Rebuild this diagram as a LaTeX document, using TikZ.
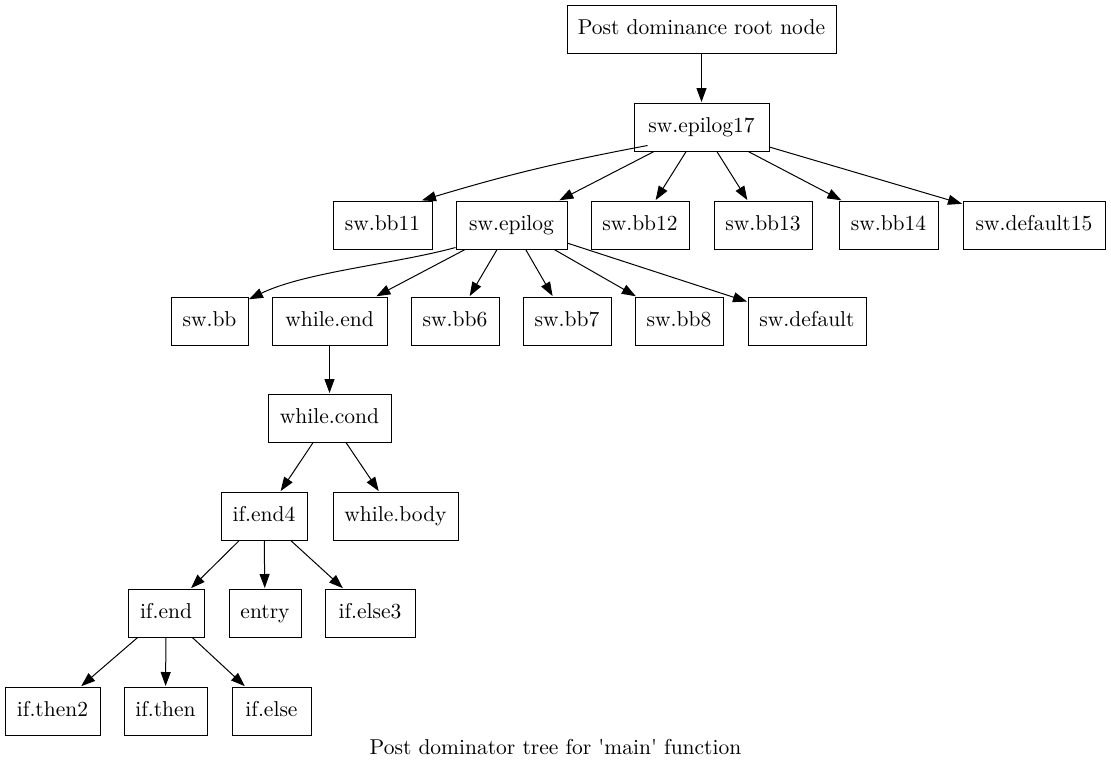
\documentclass[tikz,border=0pt]{standalone}
\usetikzlibrary{arrows.meta,calc}
\newcommand\lbl[1]{\scalebox{2.15}{\vphantom{Ag}#1}}
\begin{document}
\begin{tikzpicture}[x=1pt,y=1pt,
  box/.style={draw=black,line width=1pt,rectangle,minimum height=48pt,inner sep=0pt,font=\fontsize{10}{12}\selectfont},
  edge/.style={draw=black,line width=1pt,-{Triangle[length=14pt,width=10pt]},shorten >=0.5pt}]
\useasboundingbox (0,0) rectangle (1111,-772);
\fill[white] (0,0) rectangle (1111,-772);
% row 0
\node[box,minimum width=269pt] (root) at (701.5,-29) {\lbl{Post dominance root node}};
% row 1
\node[box,minimum width=135pt] (e17) at (701.5,-127) {\lbl{sw.epilog17}};
% row 2
\node[box,minimum width=99pt] (bb11) at (382.5,-225) {\lbl{sw.bb11}};
\node[box,minimum width=111pt] (ep) at (511.5,-225) {\lbl{sw.epilog}};
\node[box,minimum width=98pt] (bb12) at (640,-225) {\lbl{sw.bb12}};
\node[box,minimum width=98pt] (bb13) at (763,-225) {\lbl{sw.bb13}};
\node[box,minimum width=99pt] (bb14) at (888.5,-225) {\lbl{sw.bb14}};
\node[box,minimum width=142pt] (d15) at (1034,-225) {\lbl{sw.default15}};
% row 3
\node[box,minimum width=77pt] (bb) at (209.5,-321) {\lbl{sw.bb}};
\node[box,minimum width=115pt] (we) at (329.5,-321) {\lbl{while.end}};
\node[box,minimum width=88pt] (bb6) at (455,-321) {\lbl{sw.bb6}};
\node[box,minimum width=88pt] (bb7) at (567,-321) {\lbl{sw.bb7}};
\node[box,minimum width=88pt] (bb8) at (679,-321) {\lbl{sw.bb8}};
\node[box,minimum width=118pt] (def) at (807,-321) {\lbl{sw.default}};
% row 4
\node[box,minimum width=123pt] (wc) at (329.5,-418) {\lbl{while.cond}};
% row 5
\node[box,minimum width=86pt] (ie4) at (264,-516) {\lbl{if.end4}};
\node[box,minimum width=125pt] (wb) at (395.5,-516) {\lbl{while.body}};
% row 6
\node[box,minimum width=76pt] (ie) at (166,-613) {\lbl{if.end}};
\node[box,minimum width=72pt] (entry) at (265,-613) {\lbl{entry}};
\node[box,minimum width=90pt] (iel3) at (370,-613) {\lbl{if.else3}};
% row 7
\node[box,minimum width=95pt] (it2) at (52.5,-711) {\lbl{if.then2}};
\node[box,minimum width=83pt] (it) at (165.5,-711) {\lbl{if.then}};
\node[box,minimum width=79pt] (iel) at (271.5,-711) {\lbl{if.else}};
% caption
\node[font=\fontsize{10}{12}\selectfont,inner sep=0pt] (cap) at (555.5,-749) {\lbl{Post dominator tree for \textquotesingle main\textquotesingle\ function}};
% edges
\draw[edge] (root) -- (e17);
\coordinate (s1) at ($(e17.south west)+(14,6)$);
\coordinate (t1) at ($(bb11.north east)+(-11,0)$);
\draw[edge] (s1) to[bend right=3] (t1);
\draw[edge] (e17) -- (ep);
\draw[edge] (e17) -- (bb12);
\draw[edge] (e17) -- (bb13);
\draw[edge] (e17) -- (bb14);
\draw[edge] (e17) -- (d15);
\coordinate (s2) at ($(ep.south west)+(0,2)$);
\coordinate (t2) at ($(bb.north east)+(0,-3)$);
\draw[edge] (s2) .. controls (395,-264) and (305,-272) .. (t2);
\draw[edge] (ep) -- (we);
\draw[edge] (ep) -- (bb6);
\draw[edge] (ep) -- (bb7);
\draw[edge] (ep) -- (bb8);
\draw[edge] (ep) -- (def);
\draw[edge] (we) -- (wc);
\draw[edge] (wc) -- (ie4);
\draw[edge] (wc) -- (wb);
\draw[edge] (ie4) -- (ie);
\draw[edge] (ie4) -- (entry);
\draw[edge] (ie4) -- (iel3);
\draw[edge] (ie) -- (it2);
\draw[edge] (ie) -- (it);
\draw[edge] (ie) -- (iel);
\end{tikzpicture}
\end{document}
